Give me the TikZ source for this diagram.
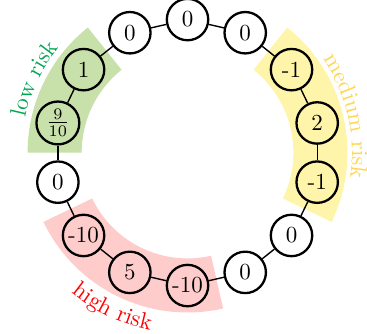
\documentclass[tikz,border=0pt]{standalone}
\usepackage{tikz}
\usetikzlibrary{decorations.text}
\definecolor{lowColor}{RGB}{0,166,81}
\definecolor{lowFill}{RGB}{200,225,170}
\definecolor{medColor}{RGB}{255,214,80}
\definecolor{medFill}{RGB}{255,245,170}
\definecolor{highColor}{RGB}{255,0,0}
\definecolor{highFill}{RGB}{255,204,204}
\tikzset{
	val/.style={draw, circle, line width=1pt, minimum size=18pt, inner sep=1pt},
	risk label/.style args={#1 with color #2}{decorate, decoration={text along path,
			text={#1}, text align=center, text color=#2}}
}
% ring sector behind the values: colour, start angle, end angle
\newcommand{\riskband}[3]{\fill[#1] (#2:46pt) arc[start angle=#2, end angle=#3, radius=46pt]
	-- (#3:69.5pt) arc[start angle=#3, end angle=#2, radius=69.5pt] -- cycle;}
\begin{document}
\begin{tikzpicture}[semithick]
				\useasboundingbox (-81.5pt,-78.5pt) rectangle (78pt,66.3pt);
				\riskband{lowFill}{128.57}{180}
				\riskband{medFill}{51.43}{-25.71}
				\riskband{highFill}{-77.14}{-154.29}
				
				\node[val] (v0) at (90:57.8pt) {0};
				\node[val] (v1) at (64.29:57.8pt) {0};
				\node[val] (v2) at (38.57:57.8pt) {-1};
				\node[val] (v3) at (12.86:57.8pt) {2};
				\node[val] (v4) at (-12.86:57.8pt) {-1};
				\node[val] (v5) at (-38.57:57.8pt) {0};
				\node[val] (v6) at (-64.29:57.8pt) {0};
				\node[val] (v7) at (-90:57.8pt) {-10};
				\node[val] (v8) at (-115.71:57.8pt) {5};
				\node[val] (v9) at (-141.43:57.8pt) {-10};
				\node[val] (v10) at (-167.14:57.8pt) {0};
				\node[val] (v11) at (167.14:57.8pt) {$\frac{9}{10}$};
				\node[val] (v12) at (141.43:57.8pt) {1};
				\node[val] (v13) at (115.71:57.8pt) {0};
				
				\path (v0) edge (v1) (v1) edge (v2) (v2) edge (v3) (v3) edge (v4)
				(v4) edge (v5) (v5) edge (v6) (v6) edge (v7) (v7) edge (v8)
				(v8) edge (v9) (v9) edge (v10) (v10) edge (v11) (v11) edge (v12)
				(v12) edge (v13) (v13) edge (v0);
				
				\path[risk label=low risk with color lowColor] (180:72pt) arc[start angle=180, end angle=128.57, radius=72pt];
				\path[risk label=medium risk with color medColor] (51.43:71.5pt) arc[start angle=51.43, end angle=-25.71, radius=71.5pt];
				\path[risk label=high risk with color highColor] (-154.29:79pt) arc[start angle=-154.29, end angle=-77.14, radius=79pt];
			\end{tikzpicture}
\end{document}
